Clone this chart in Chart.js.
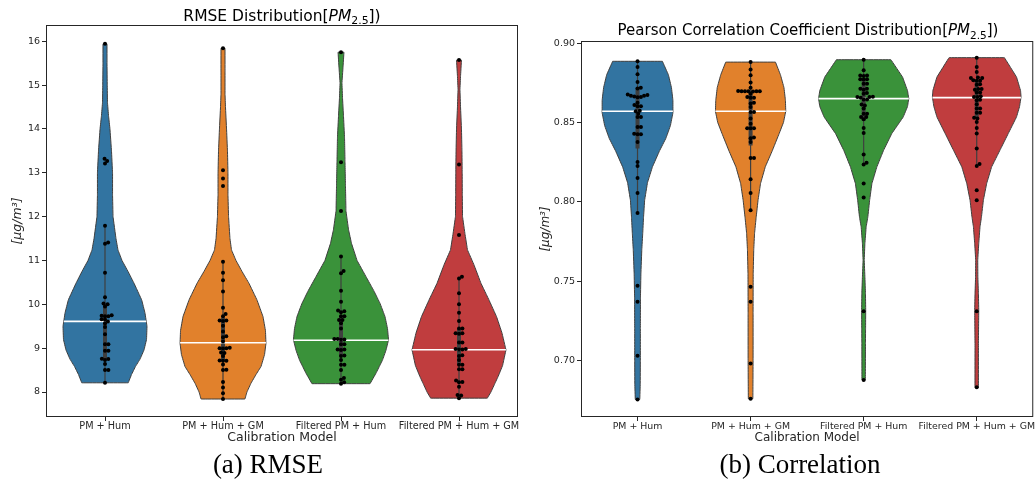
<!DOCTYPE html>
<html>
<head>
<meta charset="utf-8">
<script src="https://cdn.jsdelivr.net/npm/chart.js@4.4.1/dist/chart.umd.min.js"></script>
<style>
  body { margin: 0; width: 1035px; height: 494px; overflow: hidden; background: #fff; position: relative; font-family: "DejaVu Sans"; color: #000; }
  canvas { position: absolute; top: 0; }
  .title { position: absolute; line-height: 1; white-space: nowrap; transform: translateX(-50%); }
  .title .sub { font-size: 70%; position: relative; top: 0.32em; }
  .caption { position: absolute; top: 451px; font-family: "Liberation Serif"; font-size: 27px; line-height: 1; white-space: nowrap; transform: translateX(-50%); }
</style>
</head>
<body>
<canvas id="rmse" width="520" height="452" style="left:0"></canvas>
<canvas id="corr" width="515" height="452" style="left:520px"></canvas>
<div class="title" style="left:282px;top:8.6px;font-size:15.5px">RMSE Distribution[<i>PM</i><span class="sub">2.5</span>])</div>
<div class="title" style="left:808px;top:23.3px;font-size:15px">Pearson Correlation Coefficient Distribution[<i>PM</i><span class="sub">2.5</span>])</div>
<div class="caption" style="left:268px">(a) RMSE</div>
<div class="caption" style="left:800px">(b) Correlation</div>

<script>
const categories = ['PM + Hum', 'PM + Hum + GM', 'Filtered PM + Hum', 'Filtered PM + Hum + GM'];

// RMSE per run, one list per calibration model
const rmsePmHum = [15.94, 13.32, 13.27, 13.21, 11.79, 11.41, 11.38, 10.72, 10.16, 10.02, 10.00, 9.95, 9.75, 9.73, 9.73, 9.74,
  9.66, 9.65, 9.61, 9.57, 9.48, 9.32, 9.09, 9.09, 8.94, 8.94, 8.76, 8.75, 8.73, 8.64, 8.50, 8.50, 8.21];
const rmsePmHumGm = [15.84, 13.06, 12.87, 12.70, 10.97, 10.72, 10.55, 10.29, 9.92, 9.78, 9.73, 9.63, 9.62, 9.63, 9.51, 9.38,
  9.27, 9.25, 9.15, 9.00, 8.99, 9.01, 9.00, 8.90, 8.89, 8.82, 8.71, 8.71, 8.72, 8.63, 8.50, 8.51, 8.23, 8.10, 7.97, 7.84];
const rmseFiltered = [15.75, 13.24, 12.13, 11.09, 10.76, 10.71, 10.31, 10.06, 9.84, 9.82, 9.86, 9.73, 9.73, 9.64, 9.64, 9.57,
  9.45, 9.20, 9.19, 9.21, 9.21, 9.09, 9.09, 8.97, 8.97, 8.96, 8.83, 8.82, 8.73, 8.62, 8.62, 8.50, 8.32, 8.28, 8.22, 8.19];
const rmseFilteredGm = [15.57, 13.19, 11.58, 10.63, 10.59, 10.25, 10.00, 9.81, 9.62, 9.45, 9.45, 9.34, 9.33, 9.34, 9.13, 9.13,
  8.98, 8.97, 8.97, 8.98, 8.84, 8.82, 8.73, 8.62, 8.62, 8.52, 8.52, 8.26, 8.22, 8.23, 8.12, 7.93, 7.92, 7.86];

// Pearson correlation per run
const corrPmHum = [0.8885, 0.8849, 0.8803, 0.8754, 0.8719, 0.8713, 0.8672, 0.8668, 0.8660, 0.8663, 0.8668, 0.8676, 0.8658,
  0.8623, 0.8610, 0.8601, 0.8601, 0.8574, 0.8570, 0.8555, 0.8534, 0.8534, 0.8471, 0.8471, 0.8425, 0.8425, 0.8429, 0.8377,
  0.8251, 0.8225, 0.8150, 0.8055, 0.7929, 0.7470, 0.7369, 0.7029, 0.6754];
const corrPmHumGm = [0.8880, 0.8833, 0.8797, 0.8751, 0.8719, 0.8697, 0.8696, 0.8695, 0.8696, 0.8697, 0.8698, 0.8696, 0.8680,
  0.8660, 0.8655, 0.8655, 0.8623, 0.8619, 0.8597, 0.8565, 0.8565, 0.8524, 0.8492, 0.8463, 0.8463, 0.8463, 0.8404, 0.8400,
  0.8377, 0.8276, 0.8276, 0.8142, 0.8055, 0.7946, 0.7464, 0.7369, 0.6981, 0.6758];
const corrFiltered = [0.8895, 0.8828, 0.8795, 0.8793, 0.8795, 0.8772, 0.8770, 0.8772, 0.8744, 0.8744, 0.8712, 0.8706, 0.8712,
  0.8686, 0.8680, 0.8662, 0.8660, 0.8656, 0.8660, 0.8645, 0.8645, 0.8613, 0.8607, 0.8587, 0.8555, 0.8555, 0.8534, 0.8534,
  0.8520, 0.8465, 0.8433, 0.8297, 0.8245, 0.8234, 0.8115, 0.8026, 0.7309, 0.6876];
const corrFilteredGm = [0.8908, 0.8849, 0.8817, 0.8780, 0.8780, 0.8783, 0.8763, 0.8765, 0.8763, 0.8737, 0.8740, 0.8710, 0.8706,
  0.8710, 0.8688, 0.8688, 0.8664, 0.8660, 0.8660, 0.8643, 0.8639, 0.8614, 0.8587, 0.8587, 0.8560, 0.8560, 0.8530, 0.8524,
  0.8503, 0.8465, 0.8430, 0.8335, 0.8237, 0.8225, 0.8072, 0.8010, 0.7309, 0.6830];

// violin density: [value, half width in category units], top to bottom
const rmseViolinPmHum = [[15.94, .017], [15.5, .017], [15.0, .019], [14.6, .021], [14.3, .030], [14.0, .042], [13.5, .055],
  [13.0, .064], [12.5, .064], [12.0, .068], [11.5, .093], [11.24, .110], [11.0, .144], [10.75, .195], [10.48, .246],
  [10.1, .311], [9.8, .339], [9.5, .356], [9.2, .352], [8.96, .331], [8.75, .297], [8.58, .258], [8.4, .225], [8.21, .197]];
const rmseViolinPmHumGm = [[15.84, .017], [15.3, .017], [14.8, .017], [14.5, .021], [14.0, .030], [13.5, .038], [13.0, .042],
  [12.5, .042], [12.0, .047], [11.5, .059], [11.24, .072], [11.0, .110], [10.75, .161], [10.48, .220], [10.1, .288],
  [9.72, .339], [9.4, .360], [9.11, .364], [8.85, .352], [8.58, .322], [8.4, .280], [8.2, .237], [8.0, .203], [7.84, .186]];
const rmseViolinFiltered = [[15.75, .025], [15.4, .017], [15.05, .008], [14.7, .013], [14.3, .021], [13.8, .030], [13.25, .034],
  [12.7, .038], [12.13, .042], [11.7, .064], [11.39, .089], [11.0, .136], [10.63, .212], [10.3, .280], [10.02, .331],
  [9.72, .373], [9.45, .394], [9.19, .403], [8.95, .381], [8.73, .352], [8.43, .297], [8.19, .246]];
const rmseViolinFilteredGm = [[15.57, .021], [15.2, .013], [14.9, .008], [14.5, .013], [14.0, .021], [13.5, .025], [13.0, .027],
  [12.5, .028], [12.0, .030], [11.6, .051], [11.24, .072], [10.9, .127], [10.48, .186], [10.1, .254], [9.72, .318],
  [9.35, .364], [8.96, .398], [8.6, .369], [8.35, .331], [8.2, .305], [8.0, .271], [7.86, .240]];

const corrViolinPmHum = [[0.8885, .220], [0.880, .273], [0.872, .300], [0.864, .313], [0.856, .313], [0.848, .291],
  [0.840, .251], [0.832, .194], [0.822, .132], [0.812, .088], [0.801, .063], [0.790, .053], [0.780, .046], [0.770, .038],
  [0.755, .030], [0.740, .026], [0.720, .025], [0.700, .025], [0.685, .024], [0.6754, .020]];
const corrViolinPmHumGm = [[0.888, .220], [0.880, .264], [0.872, .295], [0.864, .308], [0.857, .311], [0.850, .291],
  [0.843, .253], [0.832, .191], [0.822, .130], [0.8115, .088], [0.801, .066], [0.790, .049], [0.780, .035], [0.770, .028],
  [0.755, .023], [0.730, .022], [0.700, .022], [0.6758, .020]];
const corrViolinFiltered = [[0.8895, .241], [0.8786, .344], [0.870, .388], [0.865, .399], [0.860, .388], [0.8534, .350],
  [0.843, .249], [0.8324, .176], [0.822, .117], [0.8115, .073], [0.801, .053], [0.7904, .037], [0.7841, .022], [0.7737, .011],
  [0.7632, .005], [0.7526, .011], [0.7422, .016], [0.7317, .018], [0.720, .017], [0.7107, .016], [0.6876, .015]];
const corrViolinFilteredGm = [[0.8908, .245], [0.8786, .352], [0.870, .388], [0.866, .392], [0.860, .379], [0.8534, .352],
  [0.843, .279], [0.8324, .205], [0.822, .132], [0.8115, .088], [0.801, .059], [0.7904, .042], [0.7841, .029], [0.7737, .018],
  [0.7632, .009], [0.7526, .010], [0.7422, .015], [0.7317, .018], [0.7107, .015], [0.683, .015]];

// inner box: whisker line, IQR box, and the white centre line
const rmseWhiskerLow = [8.21, 7.84, 8.19, 7.86];
const rmseWhiskerHigh = [11.79, 10.97, 11.09, 10.63];
const rmseBoxLow = [8.75, 8.70, 8.83, 8.62];
const rmseBoxHigh = [10.00, 9.70, 9.75, 9.45];
const rmseCentre = [9.61, 9.125, 9.18, 8.965];
const corrWhiskerLow = [0.7929, 0.7946, 0.8234, 0.8225];
const corrWhiskerHigh = [0.8885, 0.8880, 0.8895, 0.8908];
const corrBoxLow = [0.8335, 0.8355, 0.8510, 0.8525];
const corrBoxHigh = [0.8720, 0.8700, 0.8770, 0.8760];
const corrCentre = [0.857, 0.857, 0.865, 0.8656];

const rmseTicks = [8, 9, 10, 11, 12, 13, 14, 15, 16];
const corrTicks = [0.70, 0.75, 0.80, 0.85, 0.90];

const violinColors = ['#3274a1', '#e1812c', '#3a923a', '#c03d3e'];
const edgeColor = '#3f3f3f';
const inkColor = '#262626';

Chart.defaults.font.family = 'DejaVu Sans';
Chart.defaults.color = inkColor;

function widthAt(profile, v) {
  for (let k = 0; k < profile.length - 1; k++) {
    const [v0, w0] = profile[k];
    const [v1, w1] = profile[k + 1];
    if (v <= v0 && v >= v1) return w0 + (w1 - w0) * (v0 - v) / (v0 - v1);
  }
  return 0;
}

function buildDatasets(s) {
  const datasets = [];
  s.series.forEach((values, i) => {
    const profile = s.profiles[i];
    const right = profile.slice().reverse().map(([v, w]) => ({ x: i + w, y: v }));
    const left = profile.map(([v, w]) => ({ x: i - w, y: v }));
    // tiny tension keeps chart.js off its x-monotonic fast path, which mangles vertical outlines
    datasets.push({
      data: right.concat(left, [right[0]]), fill: 'shape', backgroundColor: violinColors[i],
      borderColor: edgeColor, borderWidth: 1, pointRadius: 0, tension: 0.001, order: 4
    });
    datasets.push({
      data: [{ x: i, y: s.whiskerLow[i] }, { x: i, y: s.whiskerHigh[i] }],
      borderColor: edgeColor, borderWidth: 1.2, pointRadius: 0, fill: false, tension: 0.001, order: 3
    });
    datasets.push({
      data: [{ x: i, y: s.boxLow[i] }, { x: i, y: s.boxHigh[i] }],
      borderColor: edgeColor, borderWidth: 4, pointRadius: 0, fill: false, tension: 0.001, order: 2
    });
    const hw = widthAt(profile, s.centre[i]);
    datasets.push({
      data: [{ x: i - hw, y: s.centre[i] }, { x: i + hw, y: s.centre[i] }],
      borderColor: '#ffffff', borderWidth: 1.6, pointRadius: 0, fill: false, order: 1
    });
    datasets.push({
      data: values.map(v => ({ x: i, y: v })), swarmCentre: i, showLine: false,
      pointRadius: 2, pointBorderWidth: 0, pointBackgroundColor: '#000', order: 0
    });
  });
  return datasets;
}

// beeswarm: spread points sideways in pixel space so the dots do not overlap
function applySwarm(chart, diameter) {
  const xs = chart.scales.x;
  const ys = chart.scales.y;
  const unit = xs.getPixelForValue(1) - xs.getPixelForValue(0);
  chart.data.datasets.forEach(ds => {
    if (ds.swarmCentre === undefined) return;
    const pts = ds.data.map(p => ({ p, py: ys.getPixelForValue(p.y), dx: 0 }));
    pts.sort((a, b) => b.py - a.py);
    const placed = [];
    pts.forEach(q => {
      const near = placed.filter(o => Math.abs(o.py - q.py) < diameter);
      const cands = [0];
      near.forEach(o => {
        const d = Math.sqrt(diameter * diameter - (o.py - q.py) ** 2);
        cands.push(o.dx + d, o.dx - d);
      });
      cands.sort((a, b) => Math.abs(a) - Math.abs(b));
      q.dx = cands.find(c => near.every(o => (c - o.dx) ** 2 + (q.py - o.py) ** 2 >= diameter * diameter - 0.01));
      placed.push(q);
      q.p.x = ds.swarmCentre + q.dx / unit;
    });
  });
  chart.update('none');
}

const framePlugin = {
  id: 'frame',
  afterDatasetsDraw(chart) {
    const { ctx, chartArea: a } = chart;
    ctx.save();
    ctx.strokeStyle = inkColor;
    ctx.lineWidth = 1;
    ctx.strokeRect(a.left + 0.5, a.top + 0.5, a.right - a.left - 1, a.bottom - a.top - 1);
    ctx.restore();
  }
};

function makeChart(id, s) {
  const chart = new Chart(document.getElementById(id), {
    type: 'line',
    data: { datasets: buildDatasets(s) },
    options: {
      indexAxis: 'y',
      responsive: false,
      animation: false,
      events: [],
      layout: { autoPadding: false, padding: s.padding },
      plugins: { legend: { display: false }, tooltip: { enabled: false } },
      scales: {
        x: {
          type: 'linear', min: -0.5, max: 3.5,
          afterBuildTicks: sc => { sc.ticks = categories.map((c, i) => ({ value: i })); },
          afterFit: sc => { sc.height = 35; },
          ticks: { callback: v => categories[v], font: { size: s.tickSize }, padding: 0, maxRotation: 0, autoSkip: false },
          grid: { drawOnChartArea: false, tickLength: 4, tickColor: inkColor },
          border: { display: false },
          title: { display: true, text: 'Calibration Model', font: { size: s.labelSize }, padding: { top: 0, bottom: 7 } }
        },
        y: {
          type: 'linear', min: s.yMin, max: s.yMax,
          afterBuildTicks: sc => { sc.ticks = s.yTicks.map(v => ({ value: v })); },
          afterFit: sc => { sc.width = s.yWidth; },
          ticks: { callback: s.yFormat, font: { size: 9.5 }, padding: 2 },
          grid: { drawOnChartArea: false, tickLength: 4, tickColor: inkColor },
          border: { display: false },
          title: { display: true, text: '[μg/m³]', font: { size: s.labelSize, style: 'italic' }, padding: { top: s.yTitlePad, bottom: 0 } }
        }
      }
    },
    plugins: [framePlugin]
  });
  applySwarm(chart, 3.4);
  return chart;
}

makeChart('rmse', {
  series: [rmsePmHum, rmsePmHumGm, rmseFiltered, rmseFilteredGm],
  profiles: [rmseViolinPmHum, rmseViolinPmHumGm, rmseViolinFiltered, rmseViolinFilteredGm],
  whiskerLow: rmseWhiskerLow, whiskerHigh: rmseWhiskerHigh, boxLow: rmseBoxLow, boxHigh: rmseBoxHigh, centre: rmseCentre,
  yMin: 7.43, yMax: 16.37, yTicks: rmseTicks, yFormat: v => String(v),
  padding: { top: 25, left: 0, right: 2, bottom: 0 }, yWidth: 46, yTitlePad: 10.5, tickSize: 9.7, labelSize: 12.5
});

makeChart('corr', {
  series: [corrPmHum, corrPmHumGm, corrFiltered, corrFilteredGm],
  profiles: [corrViolinPmHum, corrViolinPmHumGm, corrViolinFiltered, corrViolinFilteredGm],
  whiskerLow: corrWhiskerLow, whiskerHigh: corrWhiskerHigh, boxLow: corrBoxLow, boxHigh: corrBoxHigh, centre: corrCentre,
  yMin: 0.6643, yMax: 0.9013, yTicks: corrTicks, yFormat: v => v.toFixed(2),
  padding: { top: 41, left: 0, right: 0, bottom: 0 }, yWidth: 61, yTitlePad: 18.5, tickSize: 9.4, labelSize: 12
});
</script>
</body>
</html>
